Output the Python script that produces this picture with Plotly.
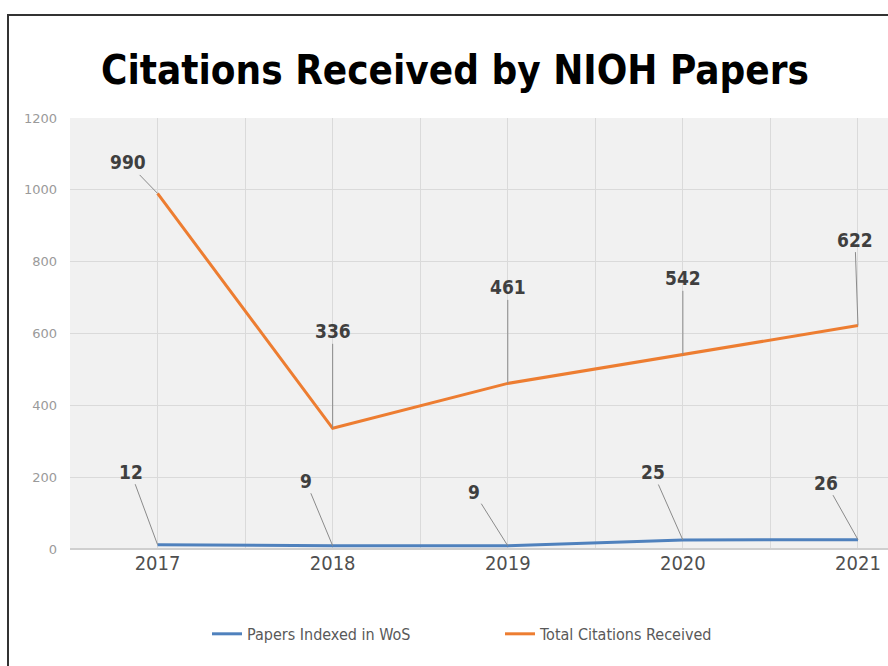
import plotly.graph_objects as go

years = [2017, 2018, 2019, 2020, 2021]
papers = [12, 9, 9, 25, 26]
citations = [990, 336, 461, 542, 622]
y_ticks = [0, 200, 400, 600, 800, 1000, 1200]

# label offsets (pixels) for the leader-line data labels
cit_off = [(-30, -31), (0, -97), (0, -96), (0, -76), (-3, -86)]
pap_off = [(-27, -73), (-27, -65), (-34, -54), (-30, -68), (-32, -57)]

BLUE = "#4f81bd"
ORANGE = "#ed7d31"
NARROW = "DejaVu Sans Condensed, Liberation Sans Narrow, sans-serif"

fig = go.Figure()
fig.add_trace(go.Scatter(x=years, y=papers, mode="lines", name="Papers Indexed in WoS",
                         line=dict(color=BLUE, width=3)))
fig.add_trace(go.Scatter(x=years, y=citations, mode="lines", name="Total Citations Received",
                         line=dict(color=ORANGE, width=3)))

anns = []
for xs, ys, offs in ((years, citations, cit_off), (years, papers, pap_off)):
    for x, y, (ax, ay) in zip(xs, ys, offs):
        anns.append(dict(x=x, y=y, text="<b>%d</b>" % y, showarrow=True, arrowhead=0,
                         arrowwidth=1, arrowcolor="#8a8a8a", ax=ax, ay=ay,
                         standoff=0, font=dict(family=NARROW, size=19, color="#3f3f3f")))

fig.update_layout(
    width=888, height=666,
    margin=dict(l=70, r=0, t=118, b=117),
    paper_bgcolor="white",
    plot_bgcolor="#f1f1f1",
    title=dict(text="<b>Citations Received by NIOH Papers</b>",
               font=dict(family=NARROW, size=40, color="black"),
               x=455 / 888, xanchor="center", y=1 - 70 / 666, yanchor="middle"),
    showlegend=True,
    legend=dict(orientation="h", x=(207 - 70) / 818, xanchor="left", y=-0.197, yanchor="middle",
                font=dict(family=NARROW, size=16, color="#595959"),
                bgcolor="rgba(0,0,0,0)", itemwidth=30, entrywidth=248, entrywidthmode="pixels"),
    annotations=anns,
    xaxis=dict(range=[2016.5, 2016.5 + 817.5 / 175], tickmode="array", tickvals=years,
               ticktext=[str(y) for y in years], showgrid=True, gridcolor="#dadada",
               gridwidth=1, zeroline=False, showline=False, ticks="",
               tickfont=dict(family=NARROW, size=20, color="#4f4f4f"),
               minor=dict(showgrid=True, gridcolor="#dadada", tick0=2016.5, dtick=1)),
    yaxis=dict(range=[0, 1200], tickmode="array", tickvals=y_ticks, showgrid=True,
               gridcolor="#dadada", zeroline=True, zerolinecolor="#cfcfcf",
               ticks="", tickfont=dict(family="DejaVu Sans, sans-serif", size=13, color="#9a9a9a"),
               ticklabelstandoff=12),
    shapes=[dict(type="rect", xref="paper", yref="paper",
                 x0=(8 - 70) / 818, x1=1.2, y0=-0.4, y1=(549 - 15) / 431,
                 line=dict(color="#333333", width=2), fillcolor="rgba(0,0,0,0)", layer="below")],
)

fig.write_html("out.html")
